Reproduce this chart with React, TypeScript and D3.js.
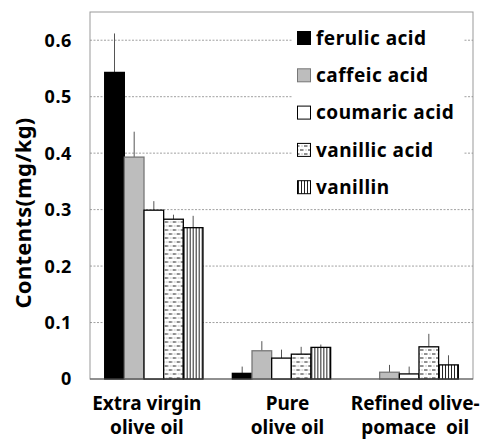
import { useMemo } from "react";
import * as d3 from "d3";

const oils = ["Extra virgin|olive oil", "Pure|olive oil", "Refined olive-|pomace  oil"];
const acids = ["ferulic acid", "caffeic acid", "coumaric acid", "vanillic acid", "vanillin"];

// one array per oil, values in acid order
const extraVirgin = [0.543, 0.393, 0.299, 0.283, 0.268];
const pureOil = [0.01, 0.05, 0.037, 0.044, 0.056];
const refinedPomace = [0, 0.012, 0.009, 0.057, 0.025];

const extraVirginErr = [0.069, 0.045, 0.016, 0.008, 0.021];
const pureOilErr = [0.012, 0.017, 0.015, 0.013, 0.005];
const refinedPomaceErr = [0, 0.013, 0.013, 0.023, 0.017];

const yTicks = [0, 0.1, 0.2, 0.3, 0.4, 0.5, 0.6];

const fills = ["#000", "#bdbdbd", "#fff", "url(#dashdot)", "url(#vlines)"];
const strokes = ["#000", "#777", "#000", "#000", "#000"];

const W = 482;
const H = 441;
const m = { top: 12, right: 9, bottom: 62, left: 90 };
const font = "'Noto Sans', 'DejaVu Sans', sans-serif";

const App = () => {
  const values = [extraVirgin, pureOil, refinedPomace];
  const errs = [extraVirginErr, pureOilErr, refinedPomaceErr];

  const x0 = useMemo(
    () => d3.scaleBand().domain(oils).range([m.left, W - m.right]).paddingInner(0.23).paddingOuter(0.115),
    []
  );
  const x1 = useMemo(() => d3.scaleBand().domain(acids).range([0, x0.bandwidth()]), [x0]);
  const y = useMemo(() => d3.scaleLinear().domain([0, 0.65]).range([H - m.bottom, m.top]), []);

  const labelShift = [-7, 6, 6];

  return (
    <svg width={W} height={H} style={{ position: "absolute", left: 0, top: 0, background: "#fff" }}>
      <defs>
        <pattern id="dashdot" width="8" height="8" patternUnits="userSpaceOnUse">
          <rect width="8" height="8" fill="#fff" />
          <line x1="0" y1="2" x2="3.5" y2="2" stroke="#222" strokeWidth="1" />
          <line x1="4" y1="6" x2="7.5" y2="6" stroke="#222" strokeWidth="1" />
          <rect x="5.5" y="1.5" width="1" height="1" fill="#888" />
          <rect x="1.5" y="5.5" width="1" height="1" fill="#888" />
        </pattern>
        <pattern id="vlines" width="3" height="3" patternUnits="userSpaceOnUse">
          <rect width="3" height="3" fill="#fff" />
          <line x1="1.5" y1="0" x2="1.5" y2="3" stroke="#222" strokeWidth="1" />
        </pattern>
      </defs>

      {/* plot frame */}
      <rect x={m.left} y={m.top} width={W - m.right - m.left} height={y(0) - m.top} fill="none" stroke="#999" />

      {/* grid */}
      {yTicks.filter((t) => t > 0).map((t) => (
        <line key={t} x1={m.left} x2={W - m.right} y1={y(t)} y2={y(t)} stroke="#888" strokeDasharray="2,1.5" strokeWidth={0.8} />
      ))}

      {/* legend background */}
      <rect x={292} y={16} width={172} height={188} fill="#fff" />

      {/* y tick labels */}
      {yTicks.map((t) => (
        <text key={t} x={72} y={y(t)} dy="0.36em" textAnchor="end" fontFamily={font} fontWeight="bold" fontSize={18} letterSpacing={0.6}>
          {t === 0 ? "0" : d3.format(".1f")(t)}
        </text>
      ))}

      <text
        transform={`translate(31,213) rotate(-90)`}
        textAnchor="middle"
        fontFamily={font}
        fontWeight="bold"
        fontSize={22}
        letterSpacing={0.3}
      >
        Contents(mg/kg)
      </text>

      {/* bars */}
      {oils.map((oil, i) => (
        <g key={oil} transform={`translate(${x0(oil)},0)`}>
          {acids.map((a, j) => {
            const v = values[i][j];
            if (v <= 0) return null;
            const bx = x1(a)!;
            const cx = bx + x1.bandwidth() / 2;
            return (
              <g key={a}>
                <line x1={cx} x2={cx} y1={y(v)} y2={y(v + errs[i][j])} stroke="#555" strokeWidth={1} />
                <rect
                  x={bx}
                  y={y(v)}
                  width={x1.bandwidth()}
                  height={y(0) - y(v)}
                  fill={fills[j]}
                  stroke={strokes[j]}
                  strokeWidth={1.3}
                />
              </g>
            );
          })}
        </g>
      ))}

      {/* baseline */}
      <line x1={m.left} x2={W - m.right} y1={y(0)} y2={y(0)} stroke="#555" strokeWidth={1.2} />

      {/* x labels */}
      {oils.map((oil, i) => {
        const cx = x0(oil)! + x0.bandwidth() / 2 + labelShift[i];
        return (
          <text key={oil} textAnchor="middle" fontFamily={font} fontWeight="bold" fontSize={19}>
            {oil.split("|").map((line, k) => (
              <tspan key={k} x={cx} y={410 + k * 24} style={{ whiteSpace: "pre" }}>
                {line}
              </tspan>
            ))}
          </text>
        );
      })}

      {/* legend */}
      {acids.map((a, j) => {
        const cy = 38 + j * 37.3;
        return (
          <g key={a}>
            <rect x={297.5} y={cy - 6.5} width={13} height={13} fill={fills[j]} stroke={strokes[j]} strokeWidth={1} />
            <text x={316} y={cy} dy="0.36em" fontFamily={font} fontWeight="bold" fontSize={19} letterSpacing={0.5}>
              {a}
            </text>
          </g>
        );
      })}
    </svg>
  );
};

export default App;
